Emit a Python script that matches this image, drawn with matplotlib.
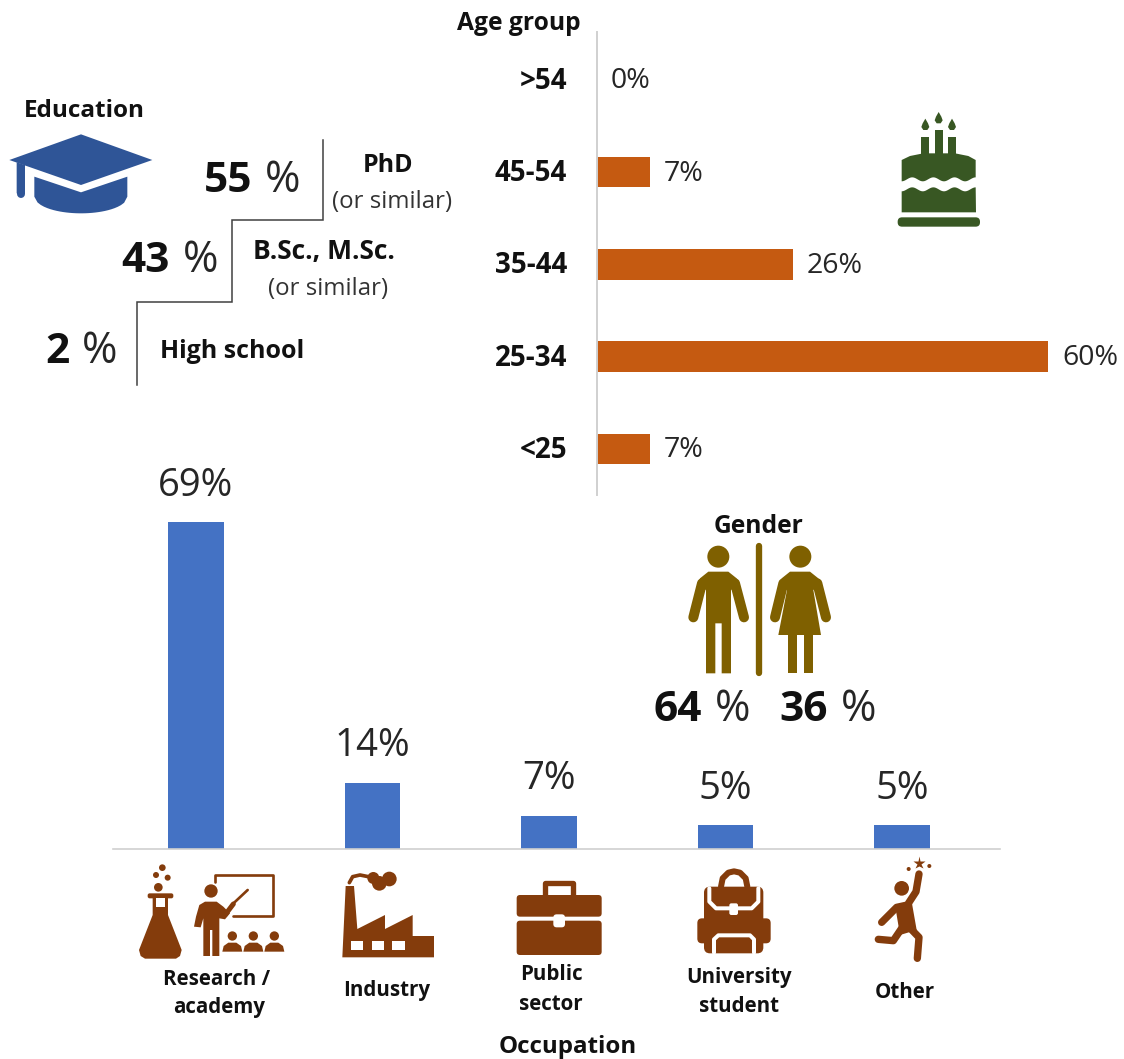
import numpy as np
import matplotlib
matplotlib.use("Agg")
import matplotlib.pyplot as plt
from matplotlib.patches import Circle, Polygon, FancyBboxPatch, Rectangle

plt.rcParams['font.family'] = ['Open Sans', 'DejaVu Sans']

W, H = 1124, 1059

age_groups = ['<25', '25-34', '35-44', '45-54', '>54']
age_share = [7, 60, 26, 7, 0]
occupations = ['Research /\nacademy', 'Industry', 'Public\nsector', 'University\nstudent', 'Other']
occupation_share = [69, 14, 7, 5, 5]
education_share = [55, 43, 2]
gender_share = [64, 36]

BLUE = '#4472C4'
ORANGE = '#C55A11'
CAP = '#2F5597'
CAKE = '#385723'
BROWN = '#843C0C'
GOLD = '#7F6000'
AXIS = '#D0D0D0'

fig = plt.figure(figsize=(W / 100, H / 100), dpi=100, facecolor='white')


def pixel_axes(x0, y0, x1, y1, **kw):
    return fig.add_axes([x0 / W, 1 - y1 / H, (x1 - x0) / W, (y1 - y0) / H], **kw)


def strip(ax):
    ax.patch.set_alpha(0)
    ax.set_xticks([])
    ax.set_yticks([])
    for s in ax.spines.values():
        s.set_visible(False)


# age group bars
ax_age = pixel_axes(597, 32, 1124, 495)
strip(ax_age)
ax_age.set_xlim(0, 527 / 7.52)
ax_age.set_ylim(-0.5, 4.52)
ax_age.barh(range(5), age_share, height=0.33, color=ORANGE)
ax_age.spines['left'].set_visible(True)
ax_age.spines['left'].set_color(AXIS)
ax_age.spines['left'].set_linewidth(1.4)
for i, (g, v) in enumerate(zip(age_groups, age_share)):
    ax_age.annotate(f'{v}%', (v, i), xytext=(10, -1), textcoords='offset points',
                    va='center', ha='left', fontsize=20.5, color='#262626')
    ax_age.annotate(g, (0, i), xytext=(-21.5, -1), textcoords='offset points',
                    va='center', ha='right', fontsize=20, fontweight='bold', color='#111111')

# occupation bars
ax_occ = pixel_axes(113, 500, 1000, 849)
strip(ax_occ)
ax_occ.set_xlim(-0.47, 4.555)
ax_occ.set_ylim(0, 349 / 4.74)
ax_occ.bar(range(5), occupation_share, width=0.315, color=BLUE)
ax_occ.spines['bottom'].set_visible(True)
ax_occ.spines['bottom'].set_color(AXIS)
ax_occ.spines['bottom'].set_linewidth(1.2)
for i, v in enumerate(occupation_share):
    ax_occ.annotate(f'{v}%', (i, v), xytext=(0, 12.5), textcoords='offset points',
                    va='bottom', ha='center', fontsize=27.5, color='#262626')

# overlay in pixel coordinates for labels and pictograms
ov = pixel_axes(0, 0, W, H)
strip(ov)
ov.set_xlim(0, W)
ov.set_ylim(H, 0)


def pts(origin, coords):
    # pictograms are laid out on a grid three times finer than a pixel
    return [(origin[0] + x / 3, origin[1] + y / 3) for x, y in coords]


def poly(origin, coords, color, z=3):
    ov.add_patch(Polygon(pts(origin, coords), closed=True, fc=color, ec='none', zorder=z))


def disc(origin, x, y, r, color, z=3):
    ov.add_patch(Circle(pts(origin, [(x, y)])[0], r / 3, fc=color, ec='none', zorder=z))


def stroke(origin, coords, width, color, z=3, cap='round'):
    xy = np.array(pts(origin, coords))
    ov.plot(xy[:, 0], xy[:, 1], color=color, lw=width / 3 * 0.72, solid_capstyle=cap,
            solid_joinstyle='round', zorder=z)


def rrect(origin, x0, y0, x1, y1, r, color, z=3):
    (a, b), = pts(origin, [(x0, y0)])
    ov.add_patch(FancyBboxPatch((a, b), (x1 - x0) / 3, (y1 - y0) / 3,
                                boxstyle=f'round,pad=0,rounding_size={r / 3}',
                                fc=color, ec='none', zorder=z))


def big_pct(x_num_right, x_sign_left, baseline, value):
    ov.text(x_num_right, baseline, str(value), ha='right', va='baseline', fontsize=30.5,
            fontweight='bold', color='#111111')
    ov.text(x_sign_left, baseline, '%', ha='left', va='baseline', fontsize=31, color='#262626')


def label(x, y, s, size=17.5, bold=True, ha='center'):
    ov.text(x, y, s, ha=ha, va='baseline', fontsize=size, color='#111111' if bold else '#333333',
            fontweight='bold' if bold else 'normal')


# education staircase
step_x = [323, 323, 232, 232, 137, 137]
step_y = [140, 220, 220, 302, 302, 385]
ov.plot(step_x, step_y, color='#404040', lw=1.1, solid_joinstyle='miter')
label(84, 117, 'Education', 17.5)
for (xr, xl, base), v in zip([(252, 265, 192), (170, 183, 272), (70, 82, 363)], education_share):
    big_pct(xr, xl, base, v)
label(388, 172, 'PhD', 18)
label(392, 208, '(or similar)', 17.3, bold=False)
label(324, 259, 'B.Sc., M.Sc.', 19)
label(328, 295, '(or similar)', 17.3, bold=False)
label(232, 358, 'High school', 18)
label(519, 30, 'Age group', 17.7)

# mortarboard
o = (0, 0)
poly(o, [(243, 403), (457, 480), (243, 555), (28, 480)], CAP)
arc_x = np.linspace(382, 103, 30)
arc_y = 590 + 50 * np.sqrt(np.clip(1 - ((arc_x - 243) / 139) ** 2, 0, 1))
poly(o, [(103, 530), (243, 577), (382, 530)] + list(zip(arc_x, arc_y)), CAP)
poly(o, [(50, 487), (75, 495), (75, 580), (50, 580)], CAP)
stroke(o, [(62, 575), (62, 582)], 24, CAP)

# cake
o = (880, 100)
for x, y, h in [(136, 75, 19), (176, 55, 19), (216, 75, 19)]:
    poly(o, [(x, y - h), (x + 8, y - 5), (x + 12, y + 6), (x + 6, y + 15), (x - 6, y + 15), (x - 12, y + 6), (x - 8, y - 5)], CAKE)
poly(o, [(124, 110), (148, 110), (148, 165), (124, 165)], CAKE)
poly(o, [(165, 90), (188, 90), (188, 165), (165, 165)], CAKE)
poly(o, [(204, 110), (227, 110), (227, 165), (204, 165)], CAKE)
wave_x = np.linspace(65, 287, 60)
wave = 6 * np.cos((wave_x - 65) / 222 * 2 * np.pi * 3.5)
top = [(65, 180), (90, 168), (130, 160), (225, 160), (265, 168), (287, 180)]
poly(o, top + list(zip(wave_x[::-1], 238 + wave[::-1])), CAKE)
poly(o, list(zip(wave_x, 268 + wave)) + [(288, 337), (65, 337)], CAKE)
rrect(o, 53, 352, 300, 380, 13, CAKE)

# gender figures
o = (640, 510)
label(759, 533, 'Gender', 17.7)
disc(o, 235, 140, 33, GOLD)
poly(o, [(172, 225), (180, 205), (205, 185), (265, 185), (290, 205), (298, 225), (273, 240), (273, 490), (245, 490),
         (245, 340), (226, 340), (226, 490), (198, 490), (198, 240)], GOLD)
stroke(o, [(186, 220), (160, 322)], 30, GOLD)
stroke(o, [(285, 220), (312, 322)], 30, GOLD)
disc(o, 481, 140, 33, GOLD)
poly(o, [(418, 225), (425, 205), (450, 185), (510, 185), (535, 205), (543, 225), (520, 240), (543, 375), (415, 375), (441, 240)], GOLD)
poly(o, [(443, 370), (470, 370), (470, 490), (443, 490)], GOLD)
poly(o, [(491, 370), (518, 370), (518, 490), (491, 490)], GOLD)
stroke(o, [(430, 220), (405, 322)], 30, GOLD)
stroke(o, [(532, 220), (558, 322)], 30, GOLD)
stroke(o, [(358, 108), (358, 488)], 19, GOLD)
big_pct(702, 715, 721, gender_share[0])
big_pct(828, 841, 721, gender_share[1])

# flask and teacher
o = (110, 850)
disc(o, 157, 53, 10, BROWN)
disc(o, 138, 75, 9, BROWN)
disc(o, 173, 83, 9, BROWN)
disc(o, 145, 112, 13, BROWN)
rrect(o, 113, 130, 190, 145, 6, BROWN)
poly(o, [(128, 140), (174, 140), (174, 195), (215, 300), (210, 318), (198, 326), (105, 326), (92, 318), (87, 300), (128, 195)], BROWN)
ov.add_patch(Rectangle(pts(o, [(137, 145)])[0], 28 / 3, 27 / 3, fc='white', ec='none', zorder=4))
disc(o, 303, 123, 20, BROWN)
poly(o, [(258, 200), (268, 165), (285, 155), (320, 155), (340, 170), (360, 190), (345, 208), (328, 205), (328, 318), (307, 318),
         (307, 240), (300, 240), (300, 318), (280, 318), (280, 205), (272, 232), (252, 230)], BROWN)
stroke(o, [(345, 195), (370, 162)], 15, BROWN)
stroke(o, [(365, 165), (413, 120)], 8, BROWN)
stroke(o, [(316, 95), (316, 76), (490, 76), (490, 198), (370, 198)], 8, BROWN)
for cx in (367, 430, 493):
    disc(o, cx, 258, 14, BROWN)
    poly(o, [(cx - 30, 305), (cx - 26, 288), (cx - 12, 278), (cx + 12, 278), (cx + 26, 288), (cx + 30, 305)], BROWN)

# factory
poly(o, [(707, 108), (732, 108), (742, 237), (825, 195), (825, 237), (908, 195), (908, 258), (972, 258),
         (972, 322), (697, 322)], BROWN)
for wx in (722, 785, 847):
    ov.add_patch(Rectangle(pts(o, [(wx, 272)])[0], 38 / 3, 28 / 3, fc='white', ec='none', zorder=4))
stroke(o, [(718, 98), (728, 80), (750, 75), (775, 80)], 11, BROWN)
disc(o, 790, 84, 18, BROWN)
disc(o, 808, 100, 22, BROWN)
disc(o, 838, 87, 22, BROWN)

# briefcase
o = (500, 850)
stroke(o, [(136, 138), (136, 100), (220, 100), (220, 138)], 16, BROWN)
rrect(o, 50, 135, 305, 200, 10, BROWN)
rrect(o, 50, 212, 305, 315, 10, BROWN)
rrect(o, 160, 193, 195, 232, 10, 'white', z=4)

# backpack
stroke(o, [(663, 110), (668, 85), (685, 68), (702, 64), (720, 68), (737, 85), (742, 110)], 18, BROWN)
rrect(o, 612, 110, 790, 310, 18, BROWN)
rrect(o, 592, 205, 812, 280, 14, BROWN)
stroke(o, [(628, 115), (628, 155), (648, 175), (755, 175), (775, 155), (775, 115)], 12, 'white', z=4)
rrect(o, 688, 160, 714, 195, 6, 'white', z=5)
stroke(o, [(642, 308), (642, 268), (655, 256), (750, 256), (762, 268), (762, 308)], 12, 'white', z=4)

# jumping figure
ov.plot(*pts(o, [(1256, 38)])[0], marker='*', ms=9.5, color=BROWN, mec='none', zorder=3)
disc(o, 1226, 57, 6, BROWN)
disc(o, 1288, 48, 6, BROWN)
disc(o, 1205, 115, 22, BROWN)
stroke(o, [(1257, 72), (1248, 125), (1222, 165), (1190, 172), (1145, 217)], 22, BROWN)
poly(o, [(1185, 165), (1235, 155), (1250, 240), (1200, 255)], BROWN)
stroke(o, [(1228, 232), (1257, 262), (1252, 325)], 22, BROWN)
stroke(o, [(1205, 235), (1180, 272), (1135, 268)], 22, BROWN)

# occupation captions
caption_lines = [[(217, 985), (219, 1013)], [(387, 996)], [(551, 980), (551, 1010)],
                 [(739, 983), (739, 1012)], [(905, 998)]]
for name, where in zip(occupations, caption_lines):
    for line, (cx, cy) in zip(name.split('\n'), where):
        label(cx, cy, line, 14.8)
label(568, 1053, 'Occupation', 17.4)

fig.savefig('out.png', dpi=100, facecolor='white')
